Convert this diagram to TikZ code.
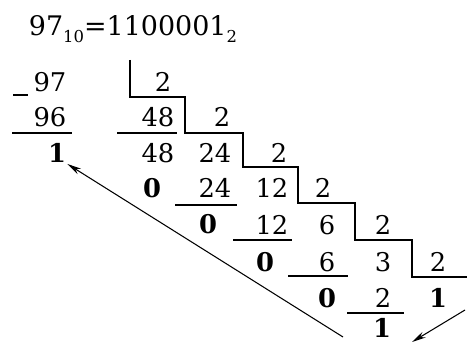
\documentclass[tikz,border=0pt]{standalone}
\usepackage{fontspec}
\setmainfont{DejaVu Serif}
\usetikzlibrary{arrows.meta}

\tikzset{
  num/.style={inner sep=1pt, font=\fontsize{22}{26}\selectfont},
  rem/.style={inner sep=1pt, font=\fontsize{22}{26}\selectfont\bfseries},
  rule/.style={line width=1pt},
  back/.style={line width=0.9pt, -{Stealth[length=12pt,width=5.5pt]}},
}

\begin{document}
\begin{tikzpicture}[x=0.03cm,y=-0.03cm]
\useasboundingbox (0,0) rectangle (467,343);
% title
\node[inner sep=0pt, font=\fontsize{23}{26}\selectfont] (title) at (133,29)
  {97{\fontsize{14}{14}\selectfont\raisebox{-6pt}{10}}=1100001{\fontsize{14}{14}\selectfont\raisebox{-6pt}{2}}};
% 97 : 2
\node[num] (n97) at (50,82) {97};
\node[num] (n96) at (50,117) {96};
\node[rem] (r1) at (57,153) {1};
\draw[rule] (13,95) -- (28,95);
\draw[rule] (12,133) -- (72,133);
% 48 : 2
\node[num] (d1) at (163,82) {2};
\node[num] (q1) at (158,117) {48};
\node[num] (p1) at (158,153) {48};
\node[rem] (r2) at (152,188) {0};
\draw[rule] (117,133) -- (177,133);
% 24 : 2
\node[num] (d2) at (222,117) {2};
\node[num] (q2) at (215,153) {24};
\node[num] (p2) at (215,188) {24};
\node[rem] (r3) at (208,224) {0};
\draw[rule] (175,205) -- (237,205);
% 12 : 2
\node[num] (d3) at (279,153) {2};
\node[num] (q3) at (272,188) {12};
\node[num] (p3) at (272,225) {12};
\node[rem] (r4) at (265,262) {0};
\draw[rule] (233,240) -- (292,240);
% 6 : 2
\node[num] (d4) at (323,188) {2};
\node[num] (q4) at (327,225) {6};
\node[num] (p4) at (327,262) {6};
\node[rem] (r5) at (327,298) {0};
\draw[rule] (288,276) -- (348,276);
% 3 : 2
\node[num] (d5) at (383,225) {2};
\node[num] (q5) at (383,262) {3};
\node[num] (p5) at (383,298) {2};
\node[rem, inner sep=0pt] (r6) at (382,328) {1};
\draw[rule] (347,313) -- (404,313);
\node[num] (d6) at (438,262) {2};
\node[rem] (q6) at (438,298) {1};
% staircase
\draw[rule] (130,60) -- (130,97) -- (185,97) -- (185,133) -- (243,133) -- (243,167)
  -- (298,167) -- (298,203) -- (355,203) -- (355,240) -- (412,240) -- (412,277) -- (467,277);
% reading order
\coordinate (a1) at (343,337);
\coordinate (a2) at (465,310);
\coordinate (a3) at (412,342);
\draw[back] (a1) -- (r1.south east);
\draw[back] (a2) -- (a3);
\end{tikzpicture}
\end{document}
